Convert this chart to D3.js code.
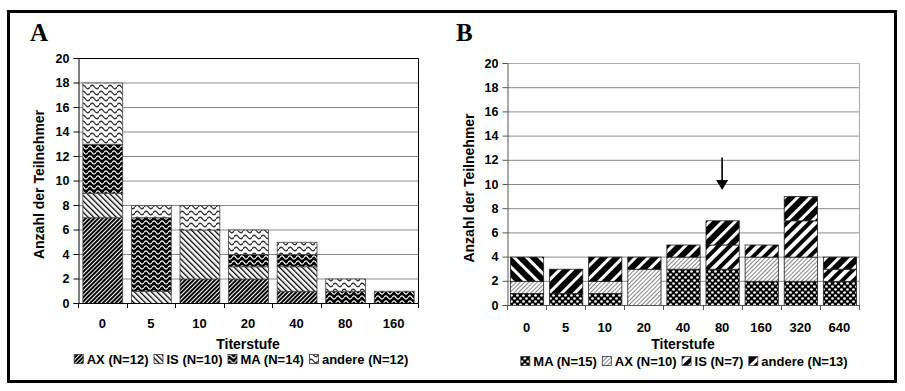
<!DOCTYPE html>
<html><head><meta charset="utf-8">
<script src="https://cdn.jsdelivr.net/npm/d3@7"></script>
<style>
html,body{margin:0;padding:0;background:#fff;}
svg text{font-family:"Liberation Sans",Arial,sans-serif;font-weight:bold;fill:#000;}
</style></head>
<body>
<svg id="chart" width="905" height="391"></svg>
<script>
// ---------- DATA ----------
const categoriesA = ["0","5","10","20","40","80","160"];
const seriesNamesA = ["AX","IS","MA","andere"];
const legendLabelsA = ["AX (N=12)","IS (N=10)","MA (N=14)","andere (N=12)"];
const AX_A     = [7,0,2,2,1,0,0];
const IS_A     = [2,1,4,1,2,0,0];
const MA_A     = [4,6,0,1,1,1,1];
const andere_A = [5,1,2,2,1,1,0];

const categoriesB = ["0","5","10","20","40","80","160","320","640"];
const seriesNamesB = ["MA","AX","IS","andere"];
const legendLabelsB = ["MA (N=15)","AX (N=10)","IS (N=7)","andere (N=13)"];
const MA_B     = [1,1,1,0,3,3,2,2,2];
const AX_B     = [1,0,1,3,1,0,2,2,0];
const IS_B     = [0,0,0,0,0,2,1,3,1];
const andere_B = [2,2,2,1,1,2,0,2,1];

const yTicks = [0,2,4,6,8,10,12,14,16,18,20];
const arrowCategory = "80";
const arrowFrom = 12.2, arrowTo = 9.5;

// ---------- SVG / PATTERNS ----------
const svg = d3.select("#chart");
const defs = svg.append("defs");

function stripePattern(id, bg, fg, size, lw, angle){
  const p = defs.append("pattern").attr("id",id).attr("patternUnits","userSpaceOnUse")
    .attr("width",size).attr("height",size).attr("patternTransform",`rotate(${angle})`);
  p.append("rect").attr("width",size).attr("height",size).attr("fill",bg);
  p.append("rect").attr("x",0).attr("y",0).attr("width",lw).attr("height",size).attr("fill",fg);
}
function wavePattern(id, bg, fg, w, h, amp, sw){
  const p = defs.append("pattern").attr("id",id).attr("patternUnits","userSpaceOnUse")
    .attr("width",w).attr("height",h);
  p.append("rect").attr("width",w).attr("height",h).attr("fill",bg);
  const m = h/2;
  const d = `M0,${m} Q${w/4},${m-2*amp} ${w/2},${m} T${w},${m}`;
  p.append("path").attr("d",d).attr("fill","none").attr("stroke",fg).attr("stroke-width",sw);
}
// Panel A
stripePattern("pA_AX","#000","#fff",3,1,45);
stripePattern("pA_IS","#fff","#000",4,1.3,-45);
wavePattern("pA_MA","#000","#fff",8,5,1.6,1.3);
wavePattern("pA_andere","#fff","#333",9,6,1.8,1.4);
// Panel B
(function(){
  const p = defs.append("pattern").attr("id","pB_MA").attr("patternUnits","userSpaceOnUse")
    .attr("width",6).attr("height",6);
  p.append("rect").attr("width",6).attr("height",6).attr("fill","#000");
  p.append("circle").attr("cx",1.5).attr("cy",1.5).attr("r",1.35).attr("fill","#fff");
  p.append("circle").attr("cx",4.5).attr("cy",4.5).attr("r",1.35).attr("fill","#fff");
})();
stripePattern("pB_AX","#fff","#777",3,0.9,45);
stripePattern("pB_IS","#fff","#000",8,4,45);
stripePattern("pB_andere","#000","#fff",9,3,45);
stripePattern("pB_andere2","#000","#fff",9,3,-45);

// outer frame
svg.append("rect").attr("x",8.5).attr("y",11.5).attr("width",887).attr("height",370)
  .attr("fill","none").attr("stroke","#000").attr("stroke-width",3);

// ---------- PANEL DRAWER ----------
function drawPanel(cfg){
  const g = svg.append("g");
  const {left,right,top,bottom} = cfg;
  const x = d3.scaleBand().domain(cfg.categories).range([left,right]).paddingInner(cfg.pad).paddingOuter(cfg.pad/2);
  const y = d3.scaleLinear().domain([0,20]).range([bottom,top]);

  // gridlines
  g.selectAll(".grid").data(yTicks.filter(d=>d>0)).join("line")
    .attr("x1",left).attr("x2",right).attr("y1",d=>y(d)+0.5).attr("y2",d=>y(d)+0.5)
    .attr("stroke",cfg.gridColor).attr("stroke-width",1);
  // plot border top/right
  g.append("path").attr("d",`M${left},${top+0.5}H${right+0.5}V${bottom}`)
    .attr("fill","none").attr("stroke",cfg.borderColor).attr("stroke-width",1);

  // stacked bars
  const rows = cfg.categories.map((c,i)=>{
    const o = {cat:c};
    cfg.seriesNames.forEach((s,k)=>o[s]=cfg.values[k][i]);
    return o;
  });
  const stack = d3.stack().keys(cfg.seriesNames)(rows);
  stack.forEach((layer,k)=>{
    g.selectAll(null).data(layer.filter(d=>d[1]-d[0]>0)).join("rect")
      .attr("x",d=>x(d.data.cat)+0.5)
      .attr("width",x.bandwidth())
      .attr("y",d=>y(d[1])+0.5)
      .attr("height",d=>y(d[0])-y(d[1]))
      .attr("fill",d=>`url(#${cfg.patternFor(layer.key,d.data.cat)})`)
      .attr("stroke",cfg.barStroke).attr("stroke-width",0.8);
  });

  // y axis
  const ya = g.append("g").attr("transform",`translate(${left+0.5},0)`)
    .call(d3.axisLeft(y).tickValues(yTicks).tickSize(5).tickPadding(4));
  ya.select(".domain").attr("stroke",cfg.axisColor);
  ya.selectAll(".tick line").attr("stroke",cfg.axisColor);
  ya.selectAll("text").style("font-size","12.5px").style("font-family","Liberation Sans, Arial, sans-serif").style("font-weight","bold");

  // x axis line with boundary ticks
  g.append("line").attr("x1",left).attr("x2",right+0.5).attr("y1",bottom+0.5).attr("y2",bottom+0.5)
    .attr("stroke",cfg.axisColor);
  const step = x.step();
  const bounds = d3.range(cfg.categories.length+1).map(i=>left + i*step);
  g.selectAll(null).data(bounds).join("line")
    .attr("x1",d=>Math.round(d)+0.5).attr("x2",d=>Math.round(d)+0.5)
    .attr("y1",bottom).attr("y2",bottom+5).attr("stroke",cfg.axisColor);
  g.selectAll(null).data(cfg.categories).join("text")
    .attr("x",d=>x(d)+x.bandwidth()/2).attr("y",cfg.xLabelY)
    .attr("text-anchor","middle").style("font-size","13px").text(d=>d);

  // axis titles
  g.append("text").attr("x",(left+right)/2).attr("y",cfg.xTitleY)
    .attr("text-anchor","middle").style("font-size","14px").text("Titerstufe");
  g.append("text").attr("transform",`translate(${cfg.yTitleX},${(top+bottom)/2+4}) rotate(-90)`)
    .attr("text-anchor","middle").style("font-size","14px").text("Anzahl der Teilnehmer");

  // panel letter
  g.append("text").attr("x",cfg.letterX).attr("y",41)
    .style("font-family","Liberation Serif, Times New Roman, serif").style("font-size","25px")
    .text(cfg.letter);

  // legend
  const lg = g.append("g");
  let cx = 0;
  cfg.seriesNames.forEach((s,k)=>{
    const it = lg.append("g").attr("transform",`translate(${cx},0)`);
    it.append("rect").attr("x",0.5).attr("y",-9.5).attr("width",9).attr("height",9)
      .attr("fill",`url(#${cfg.patternFor(s,null)})`).attr("stroke","#333").attr("stroke-width",0.8);
    const t = it.append("text").attr("x",13).attr("y",0).style("font-size","13px").text(cfg.legendLabels[k]);
    const w = t.node().getComputedTextLength();
    cx += 13 + w + 5;
  });
  const totalW = cx - 5;
  lg.attr("transform",`translate(${cfg.legendCenter - totalW/2},${cfg.legendY})`);

  return {x,y,g};
}

drawPanel({
  left:78, right:418, top:58, bottom:303, pad:0.18,
  categories:categoriesA, seriesNames:seriesNamesA, legendLabels:legendLabelsA,
  values:[AX_A,IS_A,MA_A,andere_A],
  patternFor:(s)=>"pA_"+s,
  gridColor:"#8a8a8a", borderColor:"#000", axisColor:"#000", barStroke:"#444",
  xLabelY:328, xTitleY:349, yTitleX:44, letter:"A", letterX:30,
  legendCenter:241, legendY:364
});

const pB = drawPanel({
  left:507, right:859, top:63, bottom:305, pad:0.15,
  categories:categoriesB, seriesNames:seriesNamesB, legendLabels:legendLabelsB,
  values:[MA_B,AX_B,IS_B,andere_B],
  patternFor:(s,c)=> (s==="andere" && c==="0") ? "pB_andere2" : "pB_"+s,
  gridColor:"#8a8a8a", borderColor:"#aaa", axisColor:"#555", barStroke:"#222",
  xLabelY:332, xTitleY:349, yTitleX:474, letter:"B", letterX:456,
  legendCenter:684, legendY:366
});

// arrow in panel B
const ax = pB.x(arrowCategory) + pB.x.bandwidth()/2;
const yTop = pB.y(arrowFrom), yTip = pB.y(arrowTo);
pB.g.append("line").attr("x1",ax).attr("x2",ax).attr("y1",yTop).attr("y2",yTip-9)
  .attr("stroke","#000").attr("stroke-width",1.6);
pB.g.append("path").attr("d",`M${ax-6},${yTip-10}L${ax+6},${yTip-10}L${ax},${yTip}Z`).attr("fill","#000");
</script>
</body></html>
